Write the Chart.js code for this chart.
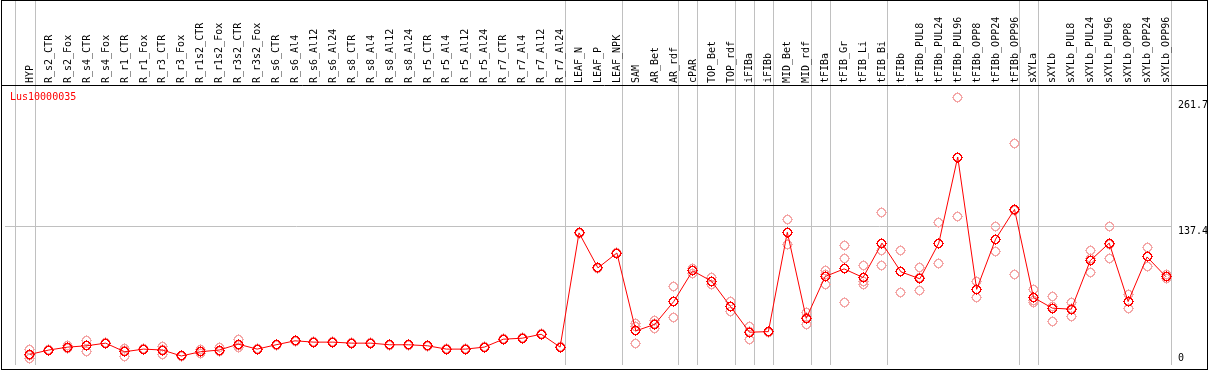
<!DOCTYPE html>
<html>
<head>
<meta charset="utf-8">
<script src="https://cdn.jsdelivr.net/npm/chart.js@4.4.1/dist/chart.umd.min.js"></script>
<style>
  html, body { margin: 0; padding: 0; background: #fff; }
  canvas { display: block; }
</style>
</head>
<body>
<canvas id="gene-chart" width="1209" height="370"></canvas>
<script>
// chart values
const title = "Lus10000035";
const categories = [
  "HYP",
  "R_s2_CTR", "R_s2_Fox", "R_s4_CTR", "R_s4_Fox", "R_r1_CTR", "R_r1_Fox", "R_r3_CTR", "R_r3_Fox",
  "R_r1s2_CTR", "R_r1s2_Fox", "R_r3s2_CTR", "R_r3s2_Fox",
  "R_s6_CTR", "R_s6_Al4", "R_s6_Al12", "R_s6_Al24", "R_s8_CTR", "R_s8_Al4", "R_s8_Al12", "R_s8_Al24",
  "R_r5_CTR", "R_r5_Al4", "R_r5_Al12", "R_r5_Al24", "R_r7_CTR", "R_r7_Al4", "R_r7_Al12", "R_r7_Al24",
  "LEAF_N", "LEAF_P", "LEAF_NPK", "SAM", "AR_Bet", "AR_rdf", "cPAR", "TOP_Bet", "TOP_rdf",
  "iFIBa", "iFIBb", "MID_Bet", "MID_rdf", "tFIBa", "tFIB_Gr", "tFIB_Li", "tFIB_Bi",
  "tFIBb", "tFIBb_PUL8", "tFIBb_PUL24", "tFIBb_PUL96", "tFIBb_OPP8", "tFIBb_OPP24", "tFIBb_OPP96",
  "sXYLa", "sXYLb", "sXYLb_PUL8", "sXYLb_PUL24", "sXYLb_PUL96", "sXYLb_OPP8", "sXYLb_OPP24", "sXYLb_OPP96"
];
const means = [
  10.5,
  14.8, 17.7, 19.0, 21.6, 13.1, 15.7, 14.8, 8.9,
  13.1, 14.8, 20.6, 15.7,
  20.0, 23.9, 22.6, 22.6, 21.6, 21.6, 20.0, 20.0,
  19.0, 15.7, 15.7, 17.7, 25.5, 26.5, 30.4, 17.7,
  130.6, 96.0, 110.7, 33.7, 40.2, 62.7, 93.1, 82.9, 57.8,
  32.4, 33.0, 131.2, 46.1, 87.5, 95.0, 86.5, 120.5,
  92.1, 85.2, 120.5, 205.6, 74.8, 124.4, 153.8,
  66.7, 56.2, 55.2, 103.2, 120.5, 62.7, 106.8, 87.2
];
const rep1 = [
  15.4,
  15.5, 19.0, 23.9, 22.5, 16.4, 16.5, 18.3, 9.8,
  15.4, 17.3, 25.2, 16.5,
  20.6, 24.5, 23.2, 23.2, 22.2, 22.2, 20.6, 20.6,
  19.6, 16.3, 16.3, 18.3, 26.1, 27.1, 31.0, 18.3,
  131.2, 96.6, 111.3, 40.8, 44.1, 78.0, 95.6, 86.5, 63.0,
  38.3, 33.6, 144.0, 52.0, 93.1, 118.5, 98.0, 150.8,
  112.7, 96.0, 141.0, 264.4, 82.6, 137.1, 219.3,
  74.8, 67.6, 61.8, 113.6, 137.1, 69.6, 116.6, 89.2
];
const rep2 = [
  6.6,
  14.0, 16.4, 13.4, 20.8, 8.2, 15.0, 10.8, 8.0,
  10.9, 13.4, 17.0, 15.0,
  19.4, 23.3, 22.0, 22.0, 21.0, 21.0, 19.4, 19.4,
  18.4, 15.1, 15.1, 17.1, 24.9, 25.9, 29.8, 17.1,
  130.0, 95.4, 110.1, 20.9, 35.9, 47.4, 90.5, 80.0, 52.9,
  25.5, 32.4, 119.1, 39.8, 80.0, 104.8, 79.4, 112.7,
  71.5, 73.5, 99.9, 146.9, 66.9, 112.0, 89.2,
  61.8, 43.2, 48.1, 91.1, 104.8, 55.9, 97.0, 85.5
];
const rep3 = [
  9.5,
  14.9, 17.7, 19.7, 21.5, 14.7, 15.6, 15.3, 8.9,
  13.1, 13.7, 19.6, 15.6,
  20.0, 23.9, 22.6, 22.6, 21.6, 21.6, 20.0, 20.0,
  19.0, 15.7, 15.7, 17.7, 25.5, 26.5, 30.4, 17.7,
  130.6, 96.0, 110.7, 37.6, 40.6, 62.7, 93.2, 82.2, 57.5,
  33.4, 33.0, 130.5, 46.5, 89.4, 61.8, 82.1, 98.0,
  92.1, 86.1, 120.6, 205.5, 74.9, 124.1, 152.9,
  63.5, 57.8, 55.7, 104.9, 119.6, 62.6, 106.8, 87.0
];
// index of the last category in each sample group
const groupEnds = [0, 28, 31, 34, 35, 37, 38, 39, 41, 42, 45, 52, 53, 60];
const yTicks = [0, 137.4, 261.7];

const FONT = '10px "DejaVu Sans Mono", "Liberation Mono", monospace';

// pixel ring with tiny tick stubs, like the original bitmap markers
function makeMarker(color, inner, outer) {
  const c = document.createElement('canvas');
  c.width = 13; c.height = 13;
  const g = c.getContext('2d');
  g.fillStyle = color;
  for (let i = 0; i < 13; i++) {
    for (let j = 0; j < 13; j++) {
      const d = Math.hypot(i - 6, j - 6);
      if (d >= inner && d < outer) g.fillRect(i, j, 1, 1);
    }
  }
  g.fillRect(6, 1, 1, 1);
  g.fillRect(6, 11, 1, 1);
  g.fillRect(1, 6, 1, 1);
  g.fillRect(11, 6, 1, 1);
  return c;
}
const meanMarker = makeMarker('#ff0000', 3.2, 4.5);
const repMarker = makeMarker('#f4a6a6', 3.5, 4.5);

const repPoints = [];
[rep1, rep2, rep3].forEach(arr => arr.forEach((v, i) => repPoints.push({ x: i, y: v })));

// frame, group lines, grid line and all the text
const decorations = {
  id: 'decorations',
  beforeDatasetsDraw(chart) {
    const { ctx, chartArea: area, scales: { x, y } } = chart;
    ctx.save();
    ctx.fillStyle = '#fff';
    ctx.fillRect(0, 0, chart.width, chart.height);

    ctx.strokeStyle = '#c0c0c0';
    ctx.lineWidth = 1;
    ctx.beginPath();
    const lines = [-0.8].concat(groupEnds.map(e => e + 0.25));
    lines.forEach(v => {
      const px = Math.round(x.getPixelForValue(v)) + 0.5;
      ctx.moveTo(px, 0);
      ctx.lineTo(px, area.bottom);
    });
    const gy = Math.round(y.getPixelForValue(yTicks[1])) + 0.5;
    ctx.moveTo(area.left, gy);
    ctx.lineTo(Math.round(x.getPixelForValue(60.25)), gy);
    ctx.stroke();

    ctx.strokeStyle = '#000';
    ctx.strokeRect(1.5, 0.5, chart.width - 3, chart.height - 1);
    ctx.beginPath();
    ctx.moveTo(1, area.top - 0.5);
    ctx.lineTo(chart.width - 1, area.top - 0.5);
    ctx.stroke();
    ctx.restore();
    // keep the bitmap markers crisp at fractional positions
    ctx.imageSmoothingEnabled = false;
  },
  afterDraw(chart) {
    const { ctx, chartArea: area, scales: { x, y } } = chart;
    ctx.save();
    ctx.font = FONT;
    ctx.fillStyle = '#000';
    ctx.textAlign = 'left';
    ctx.textBaseline = 'middle';
    categories.forEach((c, i) => {
      ctx.save();
      ctx.translate(Math.round(x.getPixelForValue(i)), area.top - 3);
      ctx.rotate(-Math.PI / 2);
      ctx.fillText(c, 0, 0);
      ctx.restore();
    });
    yTicks.forEach(t => {
      const py = Math.min(y.getPixelForValue(t) + 5, area.bottom - 7);
      ctx.fillText(String(t), area.right + 8, py);
    });
    ctx.fillStyle = '#ff0000';
    ctx.fillText(title, 10, area.top + 11);
    ctx.restore();
  }
};

new Chart(document.getElementById('gene-chart'), {
  type: 'line',
  data: {
    datasets: [
      {
        label: 'mean',
        data: means.map((v, i) => ({ x: i, y: v })),
        borderColor: '#ff0000',
        borderWidth: 1,
        pointStyle: meanMarker,
        order: 0,
        clip: false
      },
      {
        label: 'replicates',
        data: repPoints,
        showLine: false,
        pointStyle: repMarker,
        order: 1,
        clip: false
      }
    ]
  },
  options: {
    responsive: false,
    animation: false,
    devicePixelRatio: 1,
    layout: { padding: { top: 86, left: 1, right: 39, bottom: 1 } },
    plugins: { legend: { display: false }, tooltip: { enabled: false } },
    scales: {
      x: { type: 'linear', display: false, min: -25 / 19, max: 60 + 4 / 19 },
      y: { type: 'linear', display: false, min: 0, max: 275.8 }
    }
  },
  plugins: [decorations]
});
</script>
</body>
</html>
